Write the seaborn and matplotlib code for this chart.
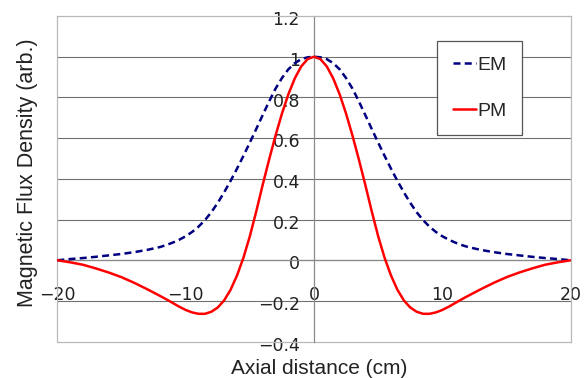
import pandas as pd
import numpy as np
import matplotlib
matplotlib.use("Agg")
import matplotlib.pyplot as plt
import matplotlib.transforms as mtransforms
import seaborn as sns

# axial positions (cm) and field values
x_cm = [-20, -19, -18, -17, -16, -15, -14, -13,
        -12, -11.5, -11, -10.5, -10, -9.5, -9, -8.5, -8, -7.5, -7, -6.5, -6, -5.5,
        -5, -4.5, -4, -3.5, -3, -2.5, -2, -1.5, -1, -0.5,
        0,
        0.5, 1, 1.5, 2, 2.5, 3, 3.5, 4, 4.5, 5, 5.5, 6, 6.5, 7, 7.5, 8, 8.5,
        9, 9.5, 10, 10.5, 11, 11.5, 12,
        13, 14, 15, 16, 17, 18, 19, 20]

em = [0.0, 0.006, 0.011, 0.017, 0.024, 0.031, 0.04, 0.051,
      0.065, 0.075, 0.087, 0.101, 0.118, 0.139, 0.165, 0.197, 0.236, 0.282, 0.334, 0.39,
      0.45, 0.513, 0.578, 0.645, 0.713, 0.78, 0.843, 0.895, 0.938, 0.968, 0.988, 0.997,
      1.0,
      0.997, 0.988, 0.968, 0.938, 0.895, 0.843, 0.78, 0.713, 0.645, 0.578, 0.513, 0.45,
      0.39, 0.334, 0.282, 0.236, 0.197, 0.165, 0.139, 0.118, 0.101, 0.087, 0.075, 0.065,
      0.051, 0.04, 0.031, 0.024, 0.017, 0.011, 0.006, 0.0]

pm = [0.0, -0.01, -0.022, -0.04, -0.06, -0.083, -0.111, -0.142,
      -0.175, -0.192, -0.21, -0.228, -0.244, -0.256, -0.263, -0.263, -0.253, -0.232,
      -0.197, -0.145, -0.075, 0.012, 0.118, 0.24, 0.37, 0.494, 0.612, 0.72, 0.815,
      0.893, 0.952, 0.988,
      1.0,
      0.988, 0.952, 0.893, 0.815, 0.72, 0.612, 0.494, 0.37, 0.24, 0.118, 0.012, -0.075,
      -0.145, -0.197, -0.232, -0.253, -0.263, -0.263, -0.256, -0.244, -0.228, -0.21,
      -0.192, -0.175,
      -0.142, -0.111, -0.083, -0.06, -0.04, -0.022, -0.01, 0.0]

x_ticks = [-20, -10, 0, 10, 20]
x_ticklabels = ["\u221220", "\u221210", "0", "10", "20"]
y_ticks = [-0.4, -0.2, 0, 0.2, 0.4, 0.6, 0.8, 1.0, 1.2]
y_ticklabels = ["\u22120.4", "\u22120.2", "0", "0.2", "0.4", "0.6", "0.8", "1", "1.2"]

df = pd.DataFrame({
    "x": x_cm * 2,
    "y": em + pm,
    "": ["EM"] * len(x_cm) + ["PM"] * len(x_cm),
})

sns.set_style("white")
plt.rcParams["font.family"] = ["Liberation Sans", "DejaVu Sans"]

fig, ax = plt.subplots(figsize=(5.87, 3.78), dpi=100)
fig.subplots_adjust(left=57.3 / 587, right=570.7 / 587, top=1 - 16 / 378, bottom=1 - 341.7 / 378)

sns.lineplot(data=df, x="x", y="y", hue="", style="",
             palette={"EM": "#000080", "PM": "#ff0000"},
             dashes={"EM": (2.8, 1.7), "PM": ""},
             linewidth=1.8, ax=ax, sort=False)

ax.set_xlim(-20, 20)
ax.set_ylim(-0.4, 1.2)

# axes crossing at the origin
ax.spines["left"].set_position(("data", 0))
ax.spines["bottom"].set_position(("data", 0))
for s in ["left", "bottom"]:
    ax.spines[s].set_color("#8a8a8a")
    ax.spines[s].set_linewidth(0.9)
    ax.spines[s].set_zorder(1)
for s in ["top", "right"]:
    ax.spines[s].set_color("#b8b8b8")
    ax.spines[s].set_linewidth(0.9)
ax.axvline(-20, color="#b8b8b8", lw=0.9, clip_on=False, zorder=1)
ax.axhline(-0.4, color="#b8b8b8", lw=0.9, clip_on=False, zorder=1)

ax.set_xticks(x_ticks)
ax.set_xticklabels(x_ticklabels, family=["DejaVu Sans"])
ax.set_yticks(y_ticks)
ax.set_yticklabels(y_ticklabels, family=["DejaVu Sans"])
ax.tick_params(axis="x", direction="in", length=4, width=0.8, color="#8a8a8a",
               pad=18.5, labelsize=12.5, labelcolor="#222222")
ax.tick_params(axis="y", direction="in", length=4, width=0.8, color="#8a8a8a",
               pad=10, labelsize=12.5, labelcolor="#222222")

# y tick labels sit a little below their gridline
shift = mtransforms.ScaledTranslation(0, -1.6 / 72, fig.dpi_scale_trans)
for lab in ax.get_yticklabels():
    lab.set_transform(lab.get_transform() + shift)

ax.yaxis.grid(True, color="#707070", lw=0.8)
gl = ax.yaxis.get_gridlines()
gl[0].set_visible(False)
gl[-1].set_visible(False)
ax.set_axisbelow(True)

ax.set_xlabel("Axial distance (cm)", fontsize=15, color="#222222")
ax.set_ylabel("Magnetic Flux Density (arb.)", fontsize=15.5, color="#222222")
ax.xaxis.set_label_coords(0.51, -0.052)
ax.yaxis.set_label_coords(-0.038, 0.52)

sns.move_legend(ax, "upper right", bbox_to_anchor=(0.906, 0.924), borderaxespad=0,
                title="", fontsize=14, frameon=True, fancybox=False, framealpha=1,
                edgecolor="#555555", labelspacing=1.46, handlelength=1.2,
                handletextpad=0.1, borderpad=0.79)
ax.get_legend().get_frame().set_linewidth(0.9)

plt.savefig("out.png", dpi=100)
